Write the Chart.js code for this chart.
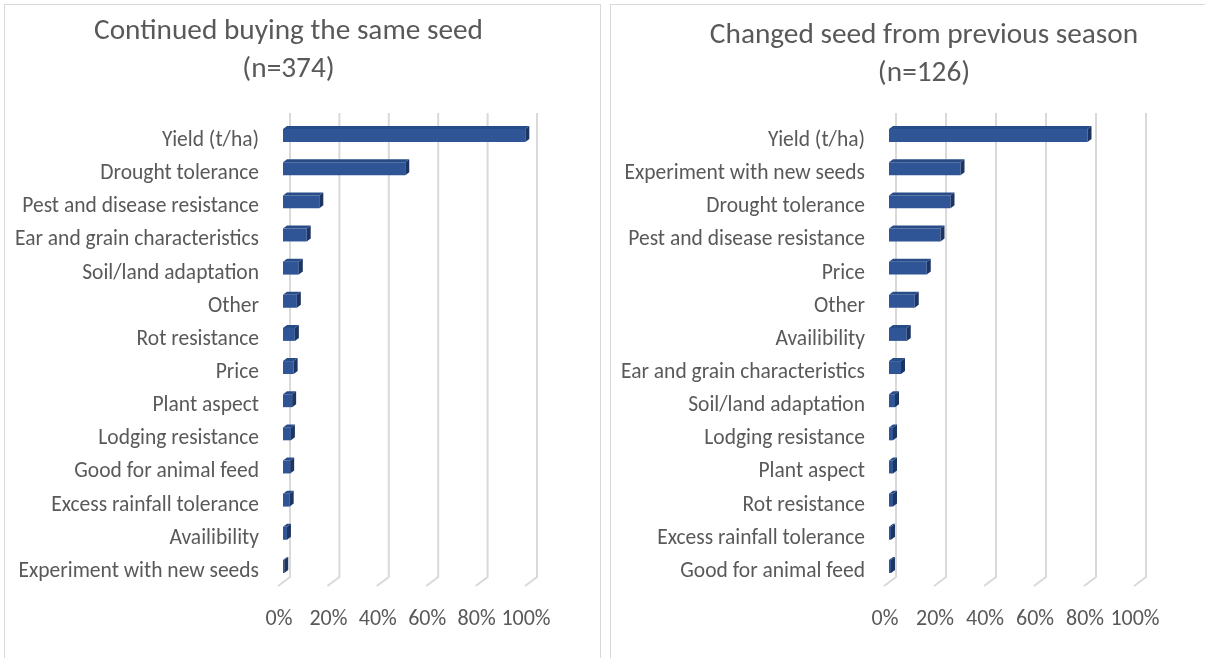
<!DOCTYPE html>
<html>
<head>
<meta charset="utf-8">
<title>Reasons for seed choice</title>
<script src="https://cdn.jsdelivr.net/npm/chart.js@4.4.1/dist/chart.umd.min.js"></script>
<style>
  html, body { margin: 0; padding: 0; background: #fff; overflow: hidden; }
  #wrap { position: relative; width: 1205px; height: 658px; }
  .box { position: absolute; border: 1px solid #D9D9D9; box-sizing: border-box; }
  canvas { position: absolute; top: 0; }
</style>
</head>
<body>
<div id="wrap">
  <div class="box" style="left:4px; top:4px; width:597px; height:700px;"></div>
  <div class="box" style="left:610px; top:4px; width:620px; height:700px;"></div>
  <canvas id="left" width="605" height="658" style="left:0"></canvas>
  <canvas id="right" width="600" height="658" style="left:605px"></canvas>
</div>
<script>
// Share of farmers citing each reason (%), listed top to bottom
const sameSeedTitle = ["Continued buying the same seed", "(n=374)"];
const sameSeedReasons = [
  "Yield (t/ha)", "Drought tolerance", "Pest and disease resistance",
  "Ear and grain characteristics", "Soil/land adaptation", "Other",
  "Rot resistance", "Price", "Plant aspect", "Lodging resistance",
  "Good for animal feed", "Excess rainfall tolerance", "Availibility",
  "Experiment with new seeds"
];
const sameSeedShares = [98.1, 49.5, 14.7, 9.6, 6.4, 5.6, 4.8, 4.3, 3.7, 3.2, 2.9, 2.7, 1.6, 0.5];

const changedSeedTitle = ["Changed seed from previous season", "(n=126)"];
const changedSeedReasons = [
  "Yield (t/ha)", "Experiment with new seeds", "Drought tolerance",
  "Pest and disease resistance", "Price", "Other", "Availibility",
  "Ear and grain characteristics", "Soil/land adaptation", "Lodging resistance",
  "Plant aspect", "Rot resistance", "Excess rainfall tolerance",
  "Good for animal feed"
];
const changedSeedShares = [79.4, 28.6, 24.6, 20.6, 15.1, 10.3, 7.1, 4.8, 2.4, 1.6, 1.6, 1.6, 0.8, 0.8];

const percentTicks = [0, 20, 40, 60, 80, 100];

const TEXT = "#595959";
const FONT = "Carlito, Calibri, 'Liberation Sans Narrow', sans-serif";
const FRONT = "#2F5597";
const TOP_FACE = "#284C88";
const SIDE_FACE = "#1C3563";
const GRID = "#D9D9D9";
const DEPTH_X = 4, DEPTH_Y = 3;

// Two-line chart heading, centred over the panel
const heading = {
  id: "heading",
  afterDraw(chart, args, opts) {
    const { ctx } = chart;
    ctx.save();
    ctx.fillStyle = TEXT;
    ctx.font = "29.3px " + FONT;
    ctx.textAlign = "center";
    ctx.textBaseline = "middle";
    opts.lines.forEach((line, i) => ctx.fillText(line, opts.x, opts.y + i * 38));
    ctx.restore();
  }
};

// Back-wall gridlines with a short floor segment, and 3D faces on each bar
const box3d = {
  id: "box3d",
  beforeDatasetsDraw(chart) {
    const { ctx, chartArea, scales } = chart;
    const x = scales.x;
    ctx.save();
    ctx.strokeStyle = GRID;
    ctx.lineWidth = 2;
    percentTicks.forEach(v => {
      const px = x.getPixelForValue(v);
      const top = chartArea.top - 6;
      const bottom = chartArea.bottom - 6;
      ctx.beginPath();
      ctx.moveTo(px + 7, top);
      ctx.lineTo(px + 7, bottom);
      ctx.lineTo(px - 5, bottom + 9);
      ctx.stroke();
    });
    ctx.restore();
  },
  afterDatasetsDraw(chart) {
    const { ctx } = chart;
    const meta = chart.getDatasetMeta(0);
    ctx.save();
    meta.data.forEach(bar => {
      const p = bar.getProps(["x", "y", "base", "height"], true);
      const top = p.y - p.height / 2;
      const bottom = p.y + p.height / 2;
      const x0 = p.base, x1 = p.x;
      ctx.fillStyle = TOP_FACE;
      ctx.beginPath();
      ctx.moveTo(x0, top);
      ctx.lineTo(x0 + DEPTH_X, top - DEPTH_Y);
      ctx.lineTo(x1 + DEPTH_X, top - DEPTH_Y);
      ctx.lineTo(x1, top);
      ctx.closePath();
      ctx.fill();
      ctx.fillStyle = SIDE_FACE;
      ctx.beginPath();
      ctx.moveTo(x1, top);
      ctx.lineTo(x1 + DEPTH_X, top - DEPTH_Y);
      ctx.lineTo(x1 + DEPTH_X, bottom - DEPTH_Y);
      ctx.lineTo(x1, bottom);
      ctx.closePath();
      ctx.fill();
    });
    ctx.restore();
  }
};

function makeChart(id, title, labels, values, frame) {
  return new Chart(document.getElementById(id), {
    type: "bar",
    data: {
      labels: labels,
      datasets: [{
        data: values,
        backgroundColor: FRONT,
        borderWidth: 0,
        categoryPercentage: 1,
        barPercentage: 0.39
      }]
    },
    options: {
      indexAxis: "y",
      responsive: false,
      animation: false,
      devicePixelRatio: 1,
      layout: { padding: { left: 0, right: frame.padRight, top: 119, bottom: 0 } },
      plugins: {
        legend: { display: false },
        tooltip: { enabled: false },
        title: { display: false },
        heading: { lines: title, x: frame.titleX, y: frame.titleY }
      },
      scales: {
        x: {
          min: 0, max: 100,
          grid: { display: false, drawTicks: false },
          border: { display: false },
          afterBuildTicks(scale) { scale.ticks = percentTicks.map(v => ({ value: v })); },
          afterFit(scale) { scale.height = 75; },
          ticks: {
            color: TEXT,
            font: { family: FONT, size: 22 },
            padding: 23,
            labelOffset: -4,
            maxRotation: 0,
            autoSkip: false,
            callback: v => v + "%"
          }
        },
        y: {
          grid: { display: false, drawTicks: false },
          border: { display: false },
          afterFit(scale) { scale.width = frame.axisWidth; },
          ticks: {
            color: TEXT,
            font: { family: FONT, size: 21.5 },
            padding: 24,
            labelOffset: 5,
            autoSkip: false
          }
        }
      }
    },
    plugins: [box3d, heading]
  });
}

makeChart("left", sameSeedTitle, sameSeedReasons, sameSeedShares,
  { padRight: 75, axisWidth: 283, titleX: 288.5, titleY: 32 });
makeChart("right", changedSeedTitle, changedSeedReasons, changedSeedShares,
  { padRight: 66, axisWidth: 284, titleX: 319, titleY: 36 });
</script>
</body>
</html>
